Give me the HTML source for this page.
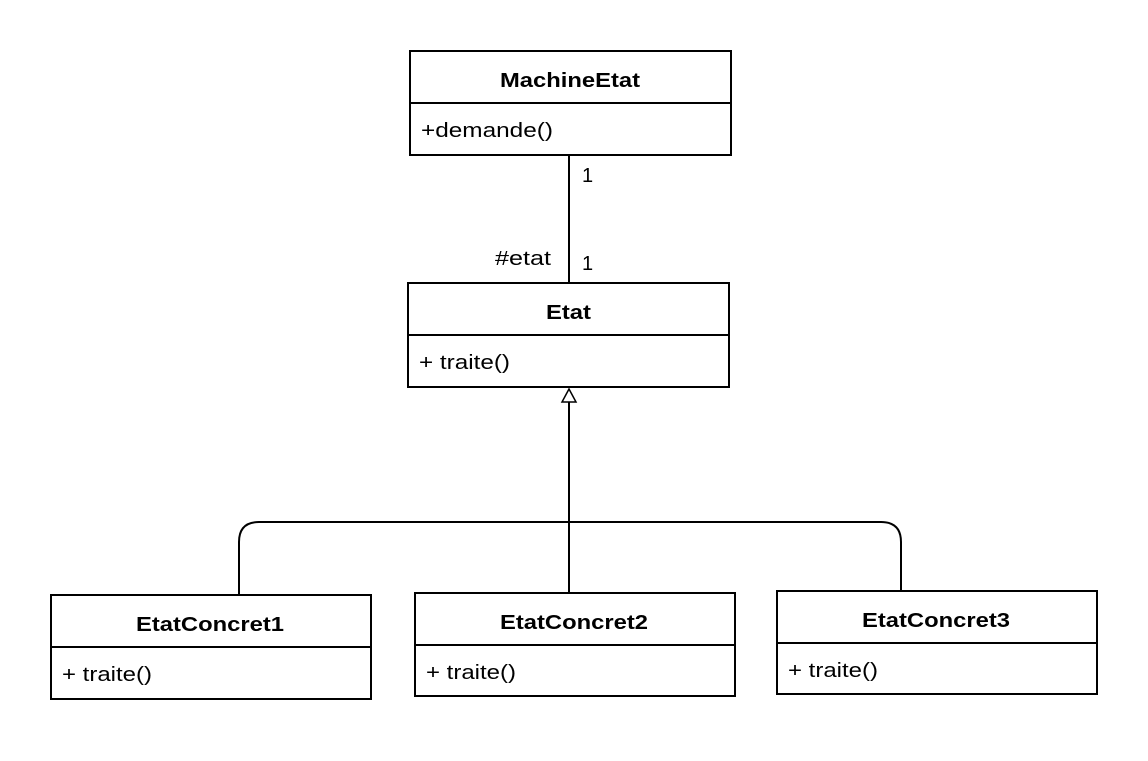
<!DOCTYPE html>
<html><head><meta charset="utf-8"><style>
body{margin:0;background:#fff;}
svg text{font-family:"Liberation Sans",Arial,sans-serif;font-size:20px;fill:#000;}
</style></head><body>
<svg width="1148" height="756" viewBox="0 0 1148 756" xmlns="http://www.w3.org/2000/svg">
<rect width="1148" height="756" fill="#fff"/>
<g fill="#fff" stroke="#000" stroke-width="2">
<rect x="410" y="51" width="321" height="104"/><line x1="410" y1="103" x2="731" y2="103"/>
<rect x="408" y="283" width="321" height="104"/><line x1="408" y1="335" x2="729" y2="335"/>
<rect x="51" y="595" width="320" height="104"/><line x1="51" y1="647" x2="371" y2="647"/>
<rect x="415" y="593" width="320" height="103"/><line x1="415" y1="645" x2="735" y2="645"/>
<rect x="777" y="591" width="320" height="103"/><line x1="777" y1="643" x2="1097" y2="643"/>
</g>
<g fill="none" stroke="#000" stroke-width="2">
<line x1="569" y1="155" x2="569" y2="283"/>
<line x1="569" y1="402" x2="569" y2="593"/>
<path d="M239 595 V542 Q239 522 259 522 H881 Q901 522 901 542 V591"/>
<polygon points="569,389 562,402 576,402" fill="#fff" stroke-width="1.5"/>
</g>
<g font-weight="bold">
<text x="500" y="87" font-weight="bold" textLength="140" lengthAdjust="spacingAndGlyphs">MachineEtat</text>
<text x="546" y="319" font-weight="bold" textLength="45" lengthAdjust="spacingAndGlyphs">Etat</text>
<text x="136" y="631" font-weight="bold" textLength="148" lengthAdjust="spacingAndGlyphs">EtatConcret1</text>
<text x="500" y="629" font-weight="bold" textLength="148" lengthAdjust="spacingAndGlyphs">EtatConcret2</text>
<text x="862" y="627" font-weight="bold" textLength="148" lengthAdjust="spacingAndGlyphs">EtatConcret3</text>
</g>
<text x="421" y="137" textLength="132" lengthAdjust="spacingAndGlyphs">+demande()</text>
<text x="419" y="369" textLength="91" lengthAdjust="spacingAndGlyphs">+ traite()</text>
<text x="62" y="681" textLength="90" lengthAdjust="spacingAndGlyphs">+ traite()</text>
<text x="426" y="679" textLength="90" lengthAdjust="spacingAndGlyphs">+ traite()</text>
<text x="788" y="677" textLength="90" lengthAdjust="spacingAndGlyphs">+ traite()</text>
<text x="582" y="182">1</text>
<text x="582" y="270">1</text>
<text x="495" y="265" textLength="56" lengthAdjust="spacingAndGlyphs">#etat</text>
</svg>
</body></html>
